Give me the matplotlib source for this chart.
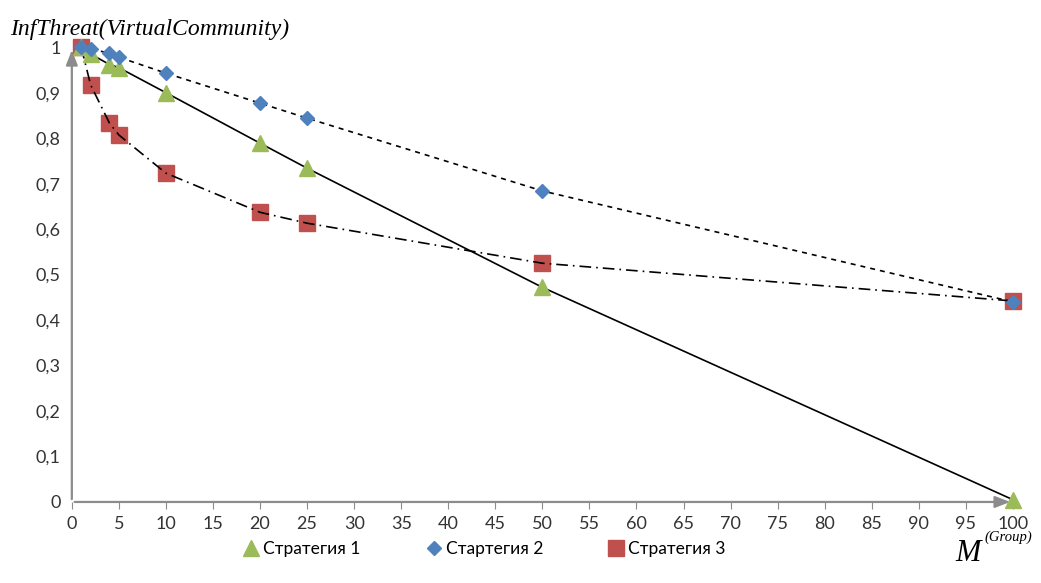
import matplotlib
matplotlib.use("Agg")
import matplotlib.pyplot as plt
from matplotlib.lines import Line2D

plt.rcParams["font.family"] = ["Lato", "DejaVu Sans"]

# values
groups = [1, 2, 4, 5, 10, 20, 25, 50, 100]
strategy_1 = [1.0, 0.985, 0.962, 0.955, 0.90, 0.789, 0.734, 0.472, 0.005]
strategy_2 = [1.0, 0.996, 0.987, 0.978, 0.943, 0.877, 0.844, 0.684, 0.440]
strategy_3 = [1.0, 0.917, 0.833, 0.807, 0.723, 0.637, 0.613, 0.525, 0.442]

labels = ["Стратегия 1", "Стартегия 2", "Стратегия 3"]
x_ticks = list(range(0, 101, 5))
y_ticks = [0, 0.1, 0.2, 0.3, 0.4, 0.5, 0.6, 0.7, 0.8, 0.9, 1.0]

GREEN = "#9bbb59"
BLUE = "#4f81bd"
RED = "#c0504d"
AXIS = "#8c8c8c"

fig = plt.figure(figsize=(10.41, 5.83), dpi=100)
ax = fig.add_axes([0.069, 0.139, 0.904, 0.780])

# trend lines through the points
ax.plot(groups, strategy_1, color="black", lw=1.2, zorder=2)
ax.plot(groups, strategy_2, color="black", lw=1.2, ls=(0, (3, 3)), zorder=2)
ax.plot(groups, strategy_3, color="black", lw=1.2, ls=(0, (7, 3, 1, 3)), zorder=2)

ax.plot(groups, strategy_1, ls="none", marker="^", ms=11, color=GREEN,
        zorder=3, clip_on=False)
ax.plot(groups, strategy_2, ls="none", marker="D", ms=7, color=BLUE,
        zorder=3, clip_on=False)
ax.plot(groups, strategy_3, ls="none", marker="s", ms=11, color=RED,
        zorder=1, clip_on=False)

ax.set_xlim(0, 100)
ax.set_ylim(0, 1.0)
ax.set_xticks(x_ticks)
ax.set_yticks(y_ticks)
ax.set_yticklabels([f"{v:g}".replace(".", ",") for v in y_ticks])
ax.tick_params(axis="x", direction="out", length=5, color=AXIS,
               labelsize=13, labelcolor="#333333", pad=5)
ax.tick_params(axis="y", length=0, labelsize=13, labelcolor="#333333", pad=8)

for spine in ax.spines.values():
    spine.set_visible(False)

# axis lines with arrow heads
arrow = dict(arrowstyle="-|>,head_length=0.9,head_width=0.35", color=AXIS, lw=1.6)
ax.annotate("", xy=(0, 1.0), xytext=(0, 0), xycoords="axes fraction",
            arrowprops=arrow, zorder=0)
ax.annotate("", xy=(1.0, 0), xytext=(0, 0), xycoords="axes fraction",
            arrowprops=arrow, zorder=0)

fig.text(0.010, 0.950, "InfThreat(VirtualCommunity)", family="Liberation Serif",
         style="italic", fontsize=17, ha="left", va="center")
fig.text(0.918, 0.050, "M", family="Liberation Serif", style="italic",
         fontsize=22, ha="left", va="center")
fig.text(0.946, 0.078, "(Group)", family="Liberation Serif", style="italic",
         fontsize=10.5, ha="left", va="center")

handles = [
    Line2D([], [], ls="none", marker="^", ms=11, color=GREEN),
    Line2D([], [], ls="none", marker="D", ms=7, color=BLUE),
    Line2D([], [], ls="none", marker="s", ms=11, color=RED),
]
fig.legend(handles, labels, loc="center", bbox_to_anchor=(0.465, 0.058), ncol=3,
           frameon=False, fontsize=12.5, handletextpad=0.2, columnspacing=3.7,
           handlelength=1.0)

fig.savefig("out.png", dpi=100)
